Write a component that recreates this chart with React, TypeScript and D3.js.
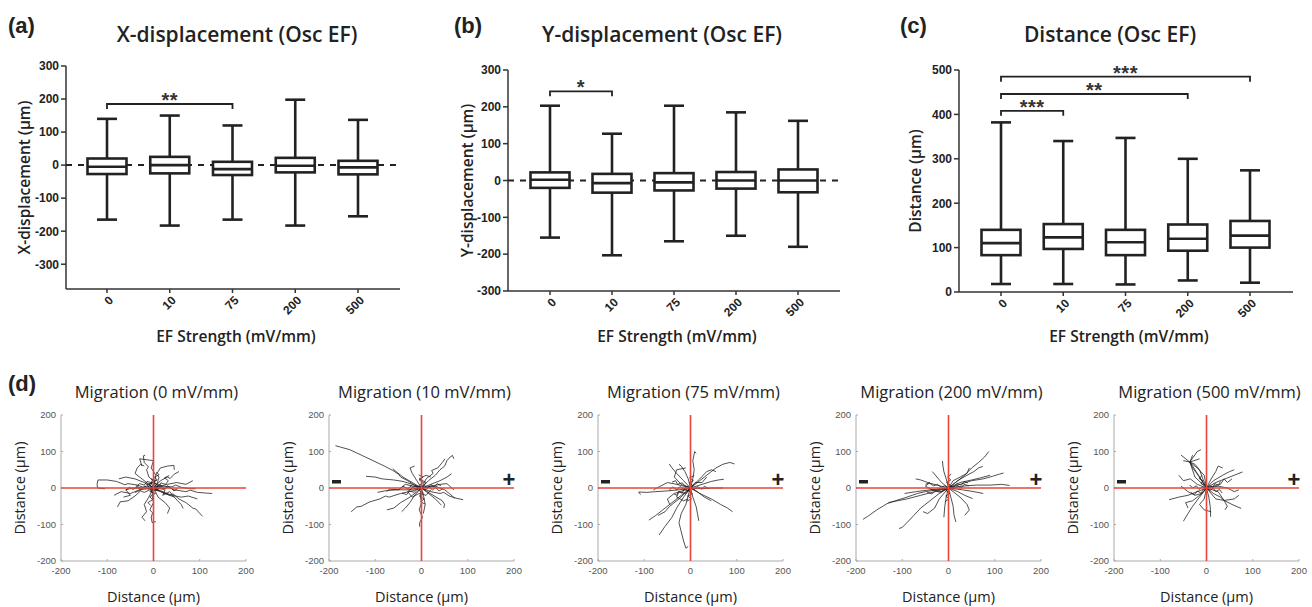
import React from 'react';
import * as d3 from 'd3';

const categories = ['0', '10', '75', '200', '500'];

// box stats per category: [min, q1, median, q3, max]
const xDisplacement = [
  [-165, -27, -5, 20, 140],
  [-183, -25, 0, 25, 150],
  [-165, -30, -12, 10, 120],
  [-183, -22, -2, 22, 198],
  [-155, -28, -7, 13, 137],
];
const yDisplacement = [
  [-155, -20, 2, 22, 203],
  [-203, -33, -7, 18, 127],
  [-165, -27, -5, 20, 203],
  [-150, -22, 0, 23, 185],
  [-180, -32, 0, 30, 162],
];
const distance = [
  [18, 83, 110, 140, 382],
  [18, 97, 123, 153, 340],
  [17, 83, 112, 140, 347],
  [26, 93, 120, 152, 300],
  [21, 100, 127, 160, 274],
];

const dispTicks = [-300, -200, -100, 0, 100, 200, 300];
const distTicks = [0, 100, 200, 300, 400, 500];

const xDispSig = [{ from: '0', to: '75', value: 185, label: '**' }];
const yDispSig = [{ from: '0', to: '10', value: 242, label: '*' }];
const distSig = [
  { from: '0', to: '10', value: 408, label: '***' },
  { from: '0', to: '200', value: 446, label: '**' },
  { from: '0', to: '500', value: 485, label: '***' },
];

const migTicks = [-200, -100, 0, 100, 200];
const fieldLabels = ['0', '10', '75', '200', '500'];

// cell tracks, [x, y] in µm
const tracks0 = [
  [[0, 0], [-15, 5], [-22, 2], [-35, 8], [-55, 12], [-62, 9], [-80, 18], [-100, 22], [-120, 22], [-122, 10], [-121, 0], [-105, -2]],
  [[0, 0], [-5, 15], [-2, 22], [-10, 30], [-15, 50], [-11, 58], [-20, 70], [-22, 88], [-18, 90]],
  [[0, 0], [8, 12], [12, 30], [6, 38], [10, 45], [15, 55], [30, 60], [44, 62], [45, 50]],
  [[0, 0], [20, -3], [32, 2], [45, -5], [70, -10], [80, -6], [95, -12], [115, -14], [127, -15]],
  [[0, 0], [15, -10], [35, -20], [42, -16], [55, -30], [70, -40], [85, -55], [92, -58], [100, -70], [106, -77]],
  [[0, 0], [-3, -20], [0, -40], [-8, -60], [-2, -68], [-5, -80], [-3, -95], [5, -92]],
  [[0, 0], [-20, -12], [-28, -8], [-40, -22], [-55, -35], [-72, -38], [-78, -52]],
  [[0, 0], [20, 5], [40, 3], [48, 8], [60, 2], [78, -2], [91, -2]],
  [[0, 0], [25, -15], [45, -25], [52, -35], [60, -45], [64, -56]],
  [[0, 0], [-25, 25], [-40, 40], [-35, 55], [-28, 65], [-20, 60]],
  [[0, 0], [15, 20], [30, 30], [36, 26], [45, 38], [55, 45]],
  [[0, 0], [-30, -5], [-50, -15], [-70, -10], [-85, -20]],
  [[0, 0], [-10, -25], [-20, -45], [-15, -65], [-25, -80], [-18, -90]],
  [[0, 0], [10, -25], [25, -40], [35, -55], [30, -70]],
  [[0, 0], [30, 10], [50, 15], [70, 10], [85, 20]],
  [[0, 0], [-45, 0], [-60, -5], [-50, -20], [-65, -25]],
  [[0, 0], [5, 35], [-5, 55], [0, 75], [-30, 80], [-25, 60]],
  [[0, 0], [40, -20], [60, -25], [75, -22], [95, -30]],
  [[0, 0], [-20, 15], [-40, 25], [-60, 30], [-75, 25]],
  [[0, 0], [15, 10], [25, -5], [20, -20], [35, -10], [45, -25]],
  [[0, 0], [-10, 10], [5, 20], [-5, 25], [10, 5], [-8, -10], [5, -15]],
  [[0, 0], [12, -8], [-5, -5], [-15, 10], [0, 15], [18, 5]],
  [[0, 0], [-8, 6], [-3, 14], [-14, 18], [-20, 8], [-30, 12], [-38, 4], [-28, -6], [-40, -12]],
  [[0, 0], [6, -6], [14, 2], [22, -4], [30, 6], [38, 0], [44, -8], [52, -2]],
  [[0, 0], [-6, -8], [2, -16], [-8, -24], [-2, -32], [-12, -40], [-6, -48]],
  [[0, 0], [5, 8], [-2, 16], [8, 22], [2, 30], [12, 36], [6, 44]],
  [[0, 0], [-12, -3], [-18, 6], [-26, -2], [-34, 4], [-44, -4], [-52, 2], [-60, -6]],
  [[0, 0], [10, 4], [16, 14], [26, 10], [32, 20], [24, 28], [34, 34]],
];
const tracks10 = [
  [[0, 0], [-15, 8], [-30, 20], [-45, 30], [-50, 38], [-62, 48], [-80, 60], [-105, 75], [-130, 90], [-155, 105], [-175, 112], [-186, 116]],
  [[0, 0], [-20, -8], [-45, -15], [-70, -25], [-78, -22], [-90, -30], [-112, -38], [-130, -50], [-140, -52], [-152, -65]],
  [[0, 0], [-20, 10], [-40, 18], [-60, 22], [-85, 25], [-100, 30], [-120, 32]],
  [[0, 0], [15, 20], [30, 35], [40, 50], [50, 60], [55, 75], [62, 85], [67, 89], [70, 80]],
  [[0, 0], [10, 25], [25, 40], [22, 48], [35, 55], [45, 70], [51, 80]],
  [[0, 0], [20, 10], [40, 20], [55, 30], [65, 39]],
  [[0, 0], [20, -10], [40, -15], [48, -12], [60, -22], [75, -28], [90, -32]],
  [[0, 0], [-3, -20], [0, -40], [-5, -60], [2, -80], [-4, -95], [-4, -106]],
  [[0, 0], [5, -25], [8, -45], [4, -70]],
  [[0, 0], [15, -15], [30, -30], [43, -47]],
  [[0, 0], [-15, -20], [-25, -40], [-35, -55], [-43, -65]],
  [[0, 0], [-20, 15], [-40, 30], [-55, 45], [-62, 53]],
  [[0, 0], [-30, -5], [-55, -5], [-80, -8], [-95, -12]],
  [[0, 0], [20, 5], [40, 10], [55, 12], [70, -5]],
  [[0, 0], [-10, 20], [-20, 40], [-25, 55], [-15, 60]],
  [[0, 0], [25, -20], [45, -35], [50, -45], [48, -55]],
  [[0, 0], [-25, -25], [-45, -40], [-60, -55], [-75, -60]],
  [[0, 0], [10, 15], [-5, 25], [10, 35], [20, 30]],
  [[0, 0], [-15, 5], [-30, -10], [-20, -25], [-5, -15], [10, -20], [20, -5]],
  [[0, 0], [30, 5], [50, -5], [60, -15], [72, -28]],
  [[0, 0], [-35, 10], [-50, -5], [-70, -3], [-75, -10]],
  [[0, 0], [-7, 5], [-14, -3], [-22, 6], [-30, -2], [-40, 5], [-48, -4]],
  [[0, 0], [6, 7], [14, 0], [20, 9], [28, 3], [34, 12], [42, 6]],
  [[0, 0], [-5, -7], [4, -14], [-4, -22], [6, -30], [-2, -38], [8, -44]],
  [[0, 0], [-4, 8], [4, 15], [-5, 22], [3, 30], [-6, 36]],
  [[0, 0], [9, -5], [16, 4], [24, -6], [30, 2], [38, -8], [46, -2]],
  [[0, 0], [-10, -4], [-16, -12], [-26, -8], [-32, -18], [-42, -14]],
];
const tracks75 = [
  [[0, 0], [-5, -20], [-10, -45], [-20, -70], [-25, -95], [-20, -120], [-15, -145], [-10, -165], [-5, -160]],
  [[0, 0], [-15, -25], [-30, -55], [-40, -80], [-55, -105], [-68, -129]],
  [[0, 0], [5, 25], [8, 50], [5, 75], [9, 100], [12, 95]],
  [[0, 0], [20, 20], [40, 40], [55, 55], [70, 65], [85, 70], [95, 66]],
  [[0, 0], [25, 10], [45, 18], [60, 22], [72, 24]],
  [[0, 0], [25, -2], [45, 0], [70, 0]],
  [[0, 0], [20, -15], [45, -30], [65, -45], [80, -55], [91, -65]],
  [[0, 0], [-25, -5], [-50, -8], [-75, -10], [-95, -12], [-112, -11], [-108, -18]],
  [[0, 0], [-20, -20], [-40, -40], [-60, -60], [-75, -75], [-90, -88]],
  [[0, 0], [-15, 20], [-30, 40], [-40, 55], [-46, 66]],
  [[0, 0], [-5, 25], [-12, 45], [-20, 60], [-25, 65]],
  [[0, 0], [5, -25], [12, -50], [15, -70], [18, -90]],
  [[0, 0], [-30, 10], [-50, 15], [-65, 5], [-80, -5]],
  [[0, 0], [20, 25], [35, 45], [45, 50], [55, 45]],
  [[0, 0], [-25, -30], [-45, -50], [-55, -65], [-70, -75]],
  [[0, 0], [15, -10], [30, -25], [45, -35]],
  [[0, 0], [-20, 10], [-35, 30], [-30, 50], [-10, 55]],
  [[0, 0], [-10, -15], [-25, -10], [-30, -25], [-15, -35], [-5, -30]],
  [[0, 0], [10, 15], [25, 15], [35, 30]],
  [[0, 0], [-35, -15], [-50, -30], [-45, -45]],
  [[0, 0], [-8, 5], [-14, -4], [-22, 4], [-30, -5], [-38, 3], [-46, -6]],
  [[0, 0], [-6, -8], [-14, -4], [-18, -14], [-26, -10], [-30, -20], [-36, -16]],
  [[0, 0], [5, 7], [-3, 14], [6, 20], [-2, 28], [8, 34]],
  [[0, 0], [-4, -9], [4, -16], [-6, -22], [2, -30], [-8, -36]],
  [[0, 0], [-12, 6], [-18, 14], [-28, 10], [-32, 20], [-40, 16]],
  [[0, 0], [9, -4], [15, 4], [24, -3], [30, 5], [40, -2]],
];
const tracks200 = [
  [[0, 0], [-25, -5], [-50, -10], [-67, -15], [-90, -25], [-115, -35], [-133, -43], [-155, -60], [-175, -78], [-185, -86]],
  [[0, 0], [-20, -15], [-40, -35], [-60, -55], [-75, -75], [-90, -95], [-100, -108], [-107, -111]],
  [[0, 0], [-30, -10], [-60, -20], [-90, -30], [-110, -35], [-130, -40]],
  [[0, 0], [15, 15], [35, 35], [50, 55], [65, 70], [78, 85], [87, 100]],
  [[0, 0], [25, 10], [50, 20], [75, 25], [95, 32], [110, 38], [119, 41]],
  [[0, 0], [30, 5], [60, 8], [90, 8], [115, 10], [132, 7]],
  [[0, 0], [20, 20], [40, 35], [55, 45], [65, 55], [74, 59]],
  [[0, 0], [25, 15], [50, 22], [70, 28], [90, 35]],
  [[0, 0], [20, -10], [35, -20], [52, -29]],
  [[0, 0], [5, -25], [10, -50], [12, -75], [16, -93]],
  [[0, 0], [-5, -25], [-8, -50], [-10, -80]],
  [[0, 0], [-5, 25], [-10, 45], [-12, 60], [-13, 74]],
  [[0, 0], [-15, 15], [-25, 30], [-35, 45]],
  [[0, 0], [-25, 8], [-45, 15], [-60, 22], [-71, 25]],
  [[0, 0], [30, -5], [55, -10], [75, -15]],
  [[0, 0], [-40, -5], [-70, -10], [-95, -15]],
  [[0, 0], [25, -25], [40, -45], [45, -60], [35, -75]],
  [[0, 0], [-20, -30], [-30, -55], [-45, -70], [-55, -65]],
  [[0, 0], [10, 20], [25, 30], [40, 40], [45, 55]],
  [[0, 0], [-15, -10], [-35, -5], [-50, 5], [-40, 15]],
  [[0, 0], [-8, 6], [-16, 2], [-24, 10], [-32, 6], [-42, 14], [-50, 10]],
  [[0, 0], [7, 5], [12, -3], [20, 6], [27, 0], [34, 10], [44, 6]],
  [[0, 0], [-5, -8], [3, -15], [-6, -22], [1, -30], [-8, -38]],
  [[0, 0], [4, 8], [-4, 15], [5, 22], [-2, 30], [6, 38]],
  [[0, 0], [-10, -5], [-18, -12], [-28, -8], [-36, -16], [-46, -12]],
  [[0, 0], [12, 3], [18, 12], [28, 8], [34, 18], [42, 14]],
];
const tracks500 = [
  [[0, 0], [-10, 20], [-20, 40], [-30, 60], [-36, 71], [-55, 90]],
  [[0, 0], [-8, 25], [-15, 50], [-25, 65], [-36, 71], [-20, 100], [-12, 105]],
  [[0, 0], [-15, 30], [-30, 55], [-36, 71], [-50, 75]],
  [[0, 0], [-5, 35], [-20, 55], [-36, 71], [-30, 90]],
  [[0, 0], [-25, 30], [-36, 71], [-15, 80]],
  [[0, 0], [-20, -10], [-40, -20], [-60, -25], [-81, -32]],
  [[0, 0], [-15, -25], [-30, -50], [-40, -70], [-50, -91]],
  [[0, 0], [5, -25], [8, -50], [9, -79]],
  [[0, 0], [15, -15], [30, -25], [38, -34], [55, -45], [75, -56]],
  [[0, 0], [20, 15], [40, 25], [60, 35], [78, 44]],
  [[0, 0], [15, 20], [35, 35], [50, 45], [60, 50]],
  [[0, 0], [25, -10], [38, -34], [45, -50], [40, -60]],
  [[0, 0], [20, -30], [38, -34], [60, -30], [70, -20]],
  [[0, 0], [-10, -15], [-25, -20], [-40, -10], [-55, 5]],
  [[0, 0], [-5, -30], [-15, -45], [-5, -60], [10, -65]],
  [[0, 0], [25, 5], [45, 0], [60, -10], [70, -5]],
  [[0, 0], [-20, 10], [-35, 25], [-50, 20], [-60, 35]],
  [[0, 0], [10, 25], [20, 45], [25, 60], [35, 55]],
  [[0, 0], [-10, -15], [-30, -35], [-45, -40], [-40, -55]],
  [[0, 0], [30, 10], [38, 25], [45, 15], [55, 25]],
  [[0, 0], [-7, -5], [-12, -14], [-20, -8], [-26, -18], [-34, -12]],
  [[0, 0], [6, 6], [14, 2], [18, 12], [26, 8], [30, 18]],
  [[0, 0], [-4, 8], [-12, 12], [-8, 20], [-16, 26], [-10, 34]],
  [[0, 0], [8, -6], [14, 0], [20, -10], [28, -4], [34, -14]],
  [[0, 0], [-9, 3], [-16, -4], [-22, 6], [-30, 0], [-36, 8]],
];
const allTracks = [tracks0, tracks10, tracks75, tracks200, tracks500];

const INK = '#222';
const TITLE_FONT = '"Open Sans", "DejaVu Sans", sans-serif';
const TICK_FONT = '"Liberation Sans", Arial, sans-serif';

type Sig = { from: string; to: string; value: number; label: string };

function BoxPanel(p: {
  letter: string; letterX: number; title: string; titleX: number; yLabel: string; yLabelX: number;
  stats: number[][]; ticks: number[]; domain: [number, number];
  axisLeft: number; axisRight: number; top: number; bottom: number; catRange: [number, number];
  sig: Sig[]; zeroLine?: boolean;
}) {
  const y = d3.scaleLinear().domain(p.domain).range([p.bottom, p.top]);
  const x = d3.scalePoint().domain(categories).range(p.catRange);
  const bw = 39;
  const cap = 10;
  const xLabelCx = (p.axisLeft + p.axisRight) / 2 + 3;
  return (
    <g>
      <text x={p.letterX} y={33} fontFamily={TICK_FONT} fontWeight="bold" fontSize={22} fill={INK}>{p.letter}</text>
      <text x={p.titleX} y={42} textAnchor="middle" fontFamily={TITLE_FONT} fontWeight={600} fontSize={21} fill={INK}>{p.title}</text>
      <text transform={`translate(${p.yLabelX},${(p.top + p.bottom) / 2}) rotate(-90)`} textAnchor="middle"
        fontFamily={TITLE_FONT} fontWeight={600} fontSize={15.5} fill={INK}>{p.yLabel}</text>
      <text x={xLabelCx} y={342} textAnchor="middle" fontFamily={TITLE_FONT} fontWeight={600} fontSize={15.5} fill={INK}>EF Strength (mV/mm)</text>

      {/* axes */}
      <line x1={p.axisLeft} x2={p.axisLeft} y1={p.bottom} y2={y(p.ticks[p.ticks.length - 1])} stroke="#333" strokeWidth={1.5} />
      <line x1={p.axisLeft} x2={p.axisRight} y1={p.bottom} y2={p.bottom} stroke="#333" strokeWidth={1.5} />
      {p.ticks.map((t) => (
        <g key={t}>
          <line x1={p.axisLeft - 5} x2={p.axisLeft} y1={y(t)} y2={y(t)} stroke="#333" strokeWidth={1.5} />
          <text x={p.axisLeft - 7} y={y(t)} dy="0.36em" textAnchor="end" fontFamily={TICK_FONT} fontWeight="bold" fontSize={12} fill={INK}>{t}</text>
        </g>
      ))}
      {categories.map((c) => (
        <g key={c}>
          <line x1={x(c)} x2={x(c)} y1={p.bottom} y2={p.bottom + 4} stroke="#333" strokeWidth={1.5} />
          <text transform={`translate(${(x(c) as number) + 4},${p.bottom + 9}) rotate(-45)`} dy="0.35em" textAnchor="end"
            fontFamily={TICK_FONT} fontWeight="bold" fontSize={12} fill={INK}>{c}</text>
        </g>
      ))}

      {p.zeroLine && (
        <line x1={p.axisLeft} x2={p.axisRight} y1={y(0)} y2={y(0)} stroke={INK} strokeWidth={2} strokeDasharray="6,6" />
      )}

      {/* boxes */}
      {p.stats.map((s, i) => {
        const cx = x(categories[i]) as number;
        const [mn, q1, md, q3, mx] = s;
        return (
          <g key={i} stroke={INK} strokeWidth={2.6} fill="none">
            <line x1={cx} x2={cx} y1={y(mx)} y2={y(q3)} />
            <line x1={cx} x2={cx} y1={y(q1)} y2={y(mn)} />
            <line x1={cx - cap} x2={cx + cap} y1={y(mx)} y2={y(mx)} />
            <line x1={cx - cap} x2={cx + cap} y1={y(mn)} y2={y(mn)} />
            <rect x={cx - bw / 2} y={y(q3)} width={bw} height={y(q1) - y(q3)} fill="#fff" />
            <line x1={cx - bw / 2} x2={cx + bw / 2} y1={y(md)} y2={y(md)} />
          </g>
        );
      })}

      {/* significance */}
      {p.sig.map((b, i) => {
        const x1 = x(b.from) as number;
        const x2 = x(b.to) as number;
        const yy = y(b.value);
        return (
          <g key={i}>
            <path d={`M${x1},${yy + 5}V${yy}H${x2}V${yy + 5}`} fill="none" stroke={INK} strokeWidth={1.8} />
            <text x={(x1 + x2) / 2} y={yy + 3} textAnchor="middle" fontFamily={TICK_FONT} fontWeight="bold" fontSize={20}
              letterSpacing={0.5} fill="#333">{b.label}</text>
          </g>
        );
      })}
    </g>
  );
}

function MigPanel(p: { left: number; field: string; tracks: number[][][]; poles: boolean }) {
  const w = 185;
  const top = 415;
  const bottom = 561;
  const x = d3.scaleLinear().domain([-200, 200]).range([p.left, p.left + w]);
  const y = d3.scaleLinear().domain([-200, 200]).range([bottom, top]);
  const line = d3.line<number[]>().x((d) => x(d[0])).y((d) => y(d[1]));
  const cx = p.left + w / 2;
  return (
    <g>
      <text x={cx + 3} y={398} textAnchor="middle" fontFamily={TITLE_FONT} fontSize={16.5} fill={INK}>{`Migration (${p.field} mV/mm)`}</text>
      <text transform={`translate(${p.left - 36},${(top + bottom) / 2}) rotate(-90)`} textAnchor="middle"
        fontFamily={TITLE_FONT} fontSize={14.5} fill={INK}>Distance (µm)</text>
      <text x={cx} y={602} textAnchor="middle" fontFamily={TITLE_FONT} fontSize={14.5} fill={INK}>Distance (µm)</text>

      <line x1={p.left} x2={p.left} y1={top} y2={bottom} stroke="#aaa" strokeWidth={1} />
      <line x1={p.left} x2={p.left + w} y1={bottom} y2={bottom} stroke="#aaa" strokeWidth={1} />
      {migTicks.map((t) => (
        <g key={t}>
          <line x1={x(t)} x2={x(t)} y1={bottom} y2={bottom - 2} stroke="#aaa" />
          <line x1={p.left} x2={p.left + 2} y1={y(t)} y2={y(t)} stroke="#aaa" />
          <text x={x(t)} y={bottom + 13} textAnchor="middle" fontFamily={TICK_FONT} fontSize={9.5} fill="#555">{t}</text>
          <text x={p.left - 5} y={y(t)} dy="0.35em" textAnchor="end" fontFamily={TICK_FONT} fontSize={9.5} fill="#555">{t}</text>
        </g>
      ))}

      {p.tracks.map((t, i) => (
        <path key={i} d={line(t) ?? ''} fill="none" stroke="#1a1a1a" strokeWidth={0.85} strokeOpacity={0.9} />
      ))}

      <line x1={x(0)} x2={x(0)} y1={top} y2={bottom} stroke="#e8453c" strokeWidth={1.6} />
      <line x1={p.left} x2={p.left + w} y1={y(0)} y2={y(0)} stroke="#e8453c" strokeWidth={1.6} />

      {p.poles && (
        <g fontFamily={TICK_FONT} fontWeight="bold" fill={INK}>
          <rect x={p.left + 3} y={y(0) - 8} width={9} height={3.5} />
          <text x={p.left + w - 5} y={y(0) - 1} textAnchor="middle" fontSize={22}>+</text>
        </g>
      )}
    </g>
  );
}

const migLefts = [61, 329, 598, 856, 1114];

export default function App() {
  return (
    <svg width={1312} height={607} style={{ position: 'absolute', left: 0, top: 0, background: '#fff' }}>
      <rect width={1312} height={607} fill="#fff" />
      <BoxPanel letter="(a)" letterX={8} title="X-displacement (Osc EF)" titleX={237} yLabel="X-displacement (µm)" yLabelX={30}
        stats={xDisplacement} ticks={dispTicks} domain={[-375, 300]} axisLeft={66} axisRight={400} top={66} bottom={289}
        catRange={[107, 358]} sig={xDispSig} zeroLine />
      <BoxPanel letter="(b)" letterX={454} title="Y-displacement (Osc EF)" titleX={662} yLabel="Y-displacement (µm)" yLabelX={473}
        stats={yDisplacement} ticks={dispTicks} domain={[-300, 300]} axisLeft={508} axisRight={840} top={70} bottom={291}
        catRange={[550, 798]} sig={yDispSig} zeroLine />
      <BoxPanel letter="(c)" letterX={900} title="Distance (Osc EF)" titleX={1110} yLabel="Distance (µm)" yLabelX={921}
        stats={distance} ticks={distTicks} domain={[0, 500]} axisLeft={959} axisRight={1293} top={70} bottom={292}
        catRange={[1001, 1250]} sig={distSig} />

      <text x={8} y={391} fontFamily={TICK_FONT} fontWeight="bold" fontSize={22} fill={INK}>(d)</text>
      {fieldLabels.map((f, i) => (
        <MigPanel key={f} left={migLefts[i]} field={f} tracks={allTracks[i]} poles={i > 0} />
      ))}
    </svg>
  );
}
